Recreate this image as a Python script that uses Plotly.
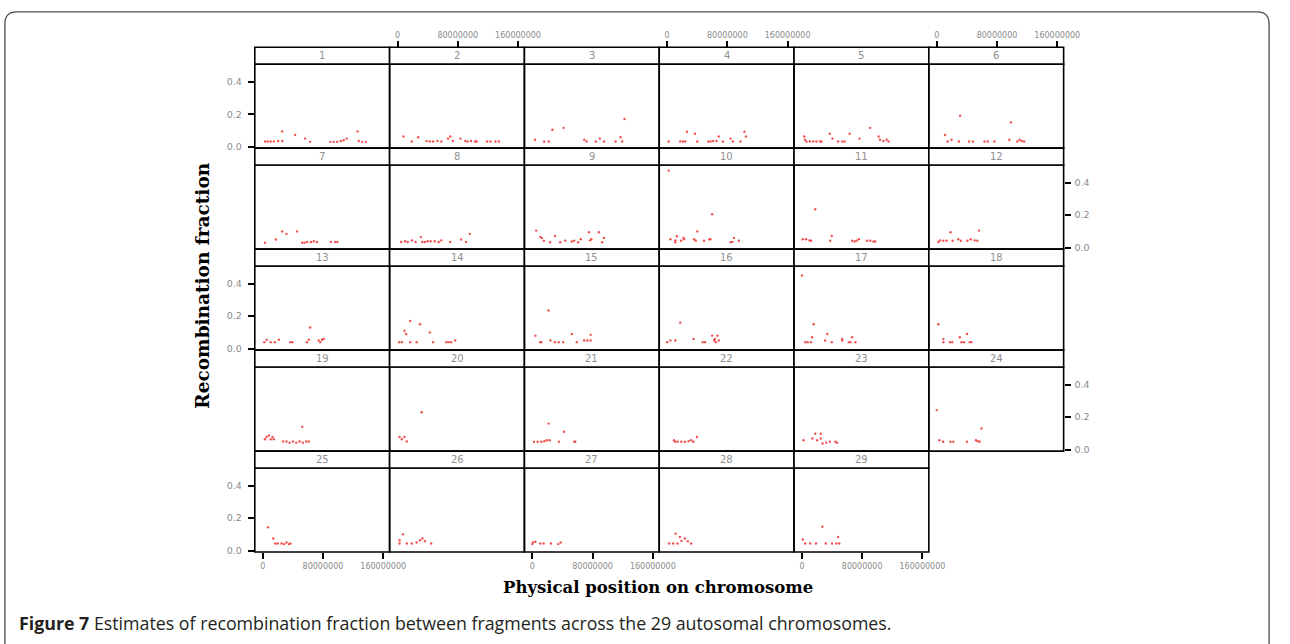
import plotly.graph_objects as go

# ---------------- data (positions in Mb, recombination fraction) ----------------
chr1_x = [3, 6.6, 10.5, 14.8, 20.5, 25.8, 26, 43, 56.4, 63, 90, 94.4, 98.8, 103.6, 107.5, 111.5, 126, 127.6, 132, 137]
chr1_y = [.032, .032, .032, .032, .035, .094, .035, .072, .05, .03, .03, .03, .03, .035, .04, .05, .094, .035, .03, .03]
chr2_x = [7.9, 18.9, 27.5, 38.5, 42.9, 47.2, 53, 58.2, 67, 70, 73.4, 83.5, 90, 93, 97.5, 103, 105, 119, 123.5, 130, 134.6]
chr2_y = [.063, .032, .058, .035, .032, .032, .035, .032, .05, .063, .035, .05, .035, .032, .035, .032, .032, .032, .032, .032, .032]
chr3_x = [3.5, 15.7, 21.8, 26.6, 41.5, 69, 72, 84.3, 89.6, 95.3, 110.6, 117, 119.3, 122.4]
chr3_y = [.043, .032, .032, .104, .116, .043, .032, .032, .05, .032, .032, .058, .032, .17]
chr4_x = [2.1, 17.4, 21, 24, 26.2, 37, 40, 54.6, 57.6, 61, 65.5, 68.5, 74, 84.2, 87.3, 97.4, 102.6, 104.8]
chr4_y = [.032, .032, .032, .032, .092, .08, .032, .032, .032, .035, .035, .063, .032, .05, .032, .032, .092, .063]
chr5_x = [3, 4, 6, 10.5, 15, 19.3, 24, 26, 37, 40.5, 48, 53.7, 56.7, 63.3, 76.4, 90.5, 101.8, 103.6, 108, 112.4, 115]
chr5_y = [.063, .043, .032, .032, .032, .032, .032, .032, .08, .05, .032, .032, .032, .08, .05, .116, .063, .043, .035, .043, .032]
chr6_x = [11, 14.4, 19.7, 29.4, 31, 42.9, 48, 63.4, 67.8, 76.6, 96.3, 98.4, 107, 110, 112.8, 116]
chr6_y = [.072, .032, .043, .032, .19, .032, .032, .032, .032, .032, .043, .149, .032, .043, .035, .032]
chr7_x = [3, 17.4, 25.8, 31.5, 45.5, 52.5, 55.5, 59, 64, 67.8, 72, 90.5, 96, 99]
chr7_y = [.03, .05, .1, .085, .1, .03, .03, .035, .035, .04, .035, .035, .035, .035]
chr8_x = [4.8, 10, 13.6, 19, 24, 31, 33, 36.3, 40, 44, 49.4, 54.7, 58, 70, 84.5, 91, 96]
chr8_y = [.035, .04, .035, .045, .035, .065, .035, .035, .04, .04, .04, .035, .045, .035, .05, .035, .085]
chr9_x = [5.2, 10.5, 12.7, 15.3, 23.6, 30, 37, 43.8, 52.4, 55.5, 60.8, 64.3, 75.3, 76.6, 78.3, 88.4, 92.7, 95]
chr9_y = [.105, .065, .06, .043, .033, .072, .033, .043, .038, .043, .033, .052, .095, .045, .052, .095, .033, .06]
chr10_x = [2.1, 4.3, 10.9, 11, 13, 18.4, 21.8, 22.5, 35.8, 38, 40, 49, 56, 57.5, 59.8, 84.3, 86.5, 88.7, 95.2]
chr10_y = [.474, .052, .033, .045, .07, .043, .06, .052, .052, .043, .1, .043, .052, .052, .206, .033, .036, .06, .043]
chr11_x = [1, 5.5, 10, 12, 17.7, 37.4, 39.6, 66.6, 69.8, 72.4, 75.5, 86.4, 90.8, 95, 97.4]
chr11_y = [.052, .052, .045, .043, .236, .043, .072, .043, .038, .043, .052, .043, .043, .038, .038]
chr12_x = [2.2, 4.4, 8.8, 13, 18.4, 21, 28.5, 32, 40.7, 45, 50.3, 53.8, 56]
chr12_y = [.035, .045, .043, .043, .095, .043, .052, .043, .043, .052, .045, .043, .105]
chr13_x = [2.2, 5.2, 10.5, 16, 21.4, 36.7, 39.3, 58.6, 61.2, 63, 74.3, 76.5, 78.7, 81]
chr13_y = [.04, .055, .04, .04, .055, .04, .04, .04, .055, .13, .05, .04, .055, .06]
chr14_x = [2.2, 5.7, 9.2, 11.4, 16.7, 16.7, 25.4, 29.8, 42.9, 47.2, 64.8, 67.8, 71.3, 76.6]
chr14_y = [.04, .04, .11, .09, .17, .04, .04, .15, .1, .04, .04, .04, .04, .05]
chr15_x = [4, 10.5, 12, 21.5, 24, 30, 35, 41, 52.5, 59, 68.7, 73, 77.4, 77.4]
chr15_y = [.08, .04, .04, .235, .05, .04, .04, .04, .09, .04, .05, .05, .05, .085]
chr16_x = [0, 4.3, 10.9, 17.4, 35, 47.2, 50.3, 59.8, 62.4, 64.7, 63.5, 66.9, 68.6]
chr16_y = [.04, .05, .05, .16, .06, .04, .04, .08, .05, .04, .06, .08, .05]
chr17_x = [0, 4.6, 7.6, 12, 13.4, 15.5, 30.8, 33.8, 39.6, 53.5, 53.5, 62.3, 64.5, 66.6, 71]
chr17_y = [.45, .04, .04, .04, .07, .15, .05, .09, .04, .05, .06, .04, .04, .07, .04]
chr18_x = [2.2, 8.8, 8.8, 17.5, 20.6, 30.6, 32.8, 36, 40.3, 43.8, 46]
chr18_y = [.15, .06, .04, .04, .04, .07, .04, .04, .09, .04, .04]
chr19_x = [3, 5.2, 8.3, 10.5, 13, 14.8, 27, 31.5, 35.8, 40.2, 44.6, 49, 52.5, 53.3, 57.7, 61.2]
chr19_y = [.064, .078, .087, .064, .078, .064, .05, .05, .043, .05, .043, .05, .14, .043, .05, .05]
chr20_x = [2.7, 5.7, 9.2, 12.3, 32]
chr20_y = [.078, .064, .078, .05, .23]
chr21_x = [2.2, 7, 12, 16, 19.3, 21.6, 23, 35.2, 42, 55.6, 57]
chr21_y = [.048, .048, .048, .052, .058, .16, .058, .048, .11, .048, .048]
chr22_x = [9.1, 10.5, 13.9, 18.8, 23.6, 28.4, 31.9, 34.8, 39.6]
chr22_y = [.058, .048, .048, .048, .048, .052, .058, .048, .078]
chr23_x = [2.1, 13.8, 17.7, 20.1, 25, 25, 27.4, 32.3, 37.1, 44.4, 46.8]
chr23_y = [.058, .068, .098, .058, .098, .068, .038, .043, .048, .048, .043]
chr24_x = [0, 3.5, 8.4, 18.1, 22, 40, 52.1, 54.5, 56.9, 59.4]
chr24_y = [.243, .058, .048, .048, .048, .048, .058, .052, .048, .13]
chr25_x = [7, 14, 16.7, 20, 25, 28.3, 31.5, 34.8, 36.7]
chr25_y = [.143, .074, .044, .044, .044, .04, .05, .04, .044]
chr26_x = [2.7, 2.7, 7.2, 12.3, 18.8, 25.3, 29.8, 33, 36.3, 44.7]
chr26_y = [.044, .064, .1, .044, .044, .05, .064, .074, .058, .044]
chr27_x = [0, 0.8, 4, 10.5, 15, 24.7, 34.4, 37.6]
chr27_y = [.04, .05, .054, .044, .044, .044, .04, .05]
chr28_x = [2.8, 8, 11.2, 13.8, 17, 19, 23.5, 27.4, 31.9]
chr28_y = [.044, .044, .104, .044, .084, .06, .074, .058, .044]
chr29_x = [1.2, 4.4, 10.9, 18.7, 27.1, 31.6, 40, 45.8, 49.6, 48]
chr29_y = [.068, .044, .044, .044, .147, .044, .044, .044, .044, .084]

chromosomes = [str(i) for i in range(1, 30)]
x_tick_vals = [0, 80, 160]
x_tick_text = ["0", "80000000", "160000000"]
y_tick_vals = [0.0, 0.2, 0.4]
y_tick_text = ["0.0", "0.2", "0.4"]

series_x = [chr1_x, chr2_x, chr3_x, chr4_x, chr5_x, chr6_x, chr7_x, chr8_x, chr9_x, chr10_x,
            chr11_x, chr12_x, chr13_x, chr14_x, chr15_x, chr16_x, chr17_x, chr18_x, chr19_x, chr20_x,
            chr21_x, chr22_x, chr23_x, chr24_x, chr25_x, chr26_x, chr27_x, chr28_x, chr29_x]
series_y = [chr1_y, chr2_y, chr3_y, chr4_y, chr5_y, chr6_y, chr7_y, chr8_y, chr9_y, chr10_y,
            chr11_y, chr12_y, chr13_y, chr14_y, chr15_y, chr16_y, chr17_y, chr18_y, chr19_y, chr20_y,
            chr21_y, chr22_y, chr23_y, chr24_y, chr25_y, chr26_y, chr27_y, chr28_y, chr29_y]

# ---------------- layout geometry (page pixels, 1290 x 644) ----------------
W, H = 1290, 644
GRID_LEFT = 258.0
COL_W = 136.5
TOP = 47.5
ROW_PITCH = 101.6
STRIP_H = 17.0
X_RANGE = [-10.5, 168.5]
Y_RANGE = [-0.009, 0.508]
NCOL = 6
LINE_W = 1.6
TICK_FONT = dict(family="DejaVu Sans", size=8, color="#8a8a8a")
YTICK_FONT = dict(family="DejaVu Sans", size=9.5, color="#8a8a8a")
POINT_COLOR = "#f05252"


def fx(px):
    return px / W


def fy(py):
    return 1 - py / H


fig = go.Figure()
layout = dict(
    width=W, height=H, autosize=False, margin=dict(l=0, r=0, t=0, b=0, pad=0),
    paper_bgcolor="white", plot_bgcolor="white", showlegend=False,
)
shapes = []
annotations = []

n = len(chromosomes)
nrow = (n + NCOL - 1) // NCOL
for i in range(n):
    r, c = divmod(i, NCOL)
    k = i + 1
    x0 = GRID_LEFT + COL_W * c
    x1 = x0 + COL_W
    st = TOP + ROW_PITCH * r
    sb = st + STRIP_H
    pb = st + ROW_PITCH
    xa = "x" if k == 1 else f"x{k}"
    ya = "y" if k == 1 else f"y{k}"
    xkey = "xaxis" if k == 1 else f"xaxis{k}"
    ykey = "yaxis" if k == 1 else f"yaxis{k}"

    fig.add_trace(go.Scatter(
        x=series_x[i], y=series_y[i], mode="markers", xaxis=xa, yaxis=ya,
        marker=dict(size=2.4, color=POINT_COLOR, line=dict(width=0)),
        hoverinfo="skip",
    ))

    top_axis = (r == 0 and c % 2 == 1)
    bottom_axis = (r == nrow - 1 and c % 2 == 0)
    left_axis = (c == 0 and r % 2 == 0)
    right_axis = (c == NCOL - 1 and r % 2 == 1)

    xax = dict(
        domain=[fx(x0), fx(x1)], anchor=ya, range=X_RANGE,
        showgrid=False, zeroline=False, showline=False,
        tickvals=x_tick_vals, ticktext=x_tick_text, tickfont=TICK_FONT,
    )
    if top_axis:
        xax.update(anchor="free", position=fy(st), side="top", ticks="outside", ticklen=6,
                   tickwidth=LINE_W, tickcolor="black", showticklabels=True)
    elif bottom_axis:
        xax.update(side="bottom", ticks="outside", ticklen=6,
                   tickwidth=LINE_W, tickcolor="black", showticklabels=True)
    else:
        xax.update(ticks="", showticklabels=False)
    yax = dict(
        domain=[fy(pb), fy(sb)], anchor=xa, range=Y_RANGE,
        showgrid=False, zeroline=False, showline=False,
        tickvals=y_tick_vals, ticktext=y_tick_text, tickfont=YTICK_FONT,
    )
    if left_axis or right_axis:
        yax.update(side="left" if left_axis else "right", ticks="outside", ticklen=6,
                   tickwidth=LINE_W, tickcolor="black", showticklabels=True,
                   ticklabelstandoff=4 if left_axis else 2)
    else:
        yax.update(ticks="", showticklabels=False)
    layout[xkey] = xax
    layout[ykey] = yax

    # panel border
    shapes.append(dict(type="rect", xref="paper", yref="paper",
                       x0=fx(x0), x1=fx(x1), y0=fy(pb), y1=fy(sb),
                       line=dict(color="black", width=LINE_W), layer="above"))
    # strip
    shapes.append(dict(type="rect", xref="paper", yref="paper",
                       x0=fx(x0), x1=fx(x1), y0=fy(sb), y1=fy(st),
                       line=dict(color="black", width=LINE_W), fillcolor="white", layer="above"))
    annotations.append(dict(xref="paper", yref="paper", x=fx((x0 + x1) / 2), y=fy((st + sb) / 2),
                            text=chromosomes[i], showarrow=False, xanchor="center", yanchor="middle",
                            font=dict(family="DejaVu Sans", size=10, color="#909090")))

# axis titles
annotations.append(dict(xref="paper", yref="paper", x=fx(205), y=fy(287), text="Recombination fraction",
                        textangle=-90, showarrow=False, xanchor="center", yanchor="middle",
                        font=dict(family="DejaVu Serif", size=18.5, color="black", weight="bold")))
annotations.append(dict(xref="paper", yref="paper", x=fx(666), y=fy(591), text="Physical position on chromosome",
                        showarrow=False, xanchor="center", yanchor="middle",
                        font=dict(family="DejaVu Serif", size=16.5, color="black", weight="bold")))
# caption
annotations.append(dict(xref="paper", yref="paper", x=fx(17), y=fy(627),
                        text="<b>Figure 7</b> Estimates of recombination fraction between fragments across the 29 autosomal chromosomes.",
                        showarrow=False, xanchor="left", yanchor="middle",
                        font=dict(family="Open Sans", size=17.8, color="#231f20")))

# outer rounded frame
R = 12
L, T, RR, B = 5, 12, 1285, 660
path = (f"M {fx(L)},{fy(B)} L {fx(L)},{fy(T + R)} Q {fx(L)},{fy(T)} {fx(L + R)},{fy(T)} "
        f"L {fx(RR - R)},{fy(T)} Q {fx(RR)},{fy(T)} {fx(RR)},{fy(T + R)} L {fx(RR)},{fy(B)}")
shapes.append(dict(type="path", xref="paper", yref="paper", path=path,
                   line=dict(color="#4d4d4d", width=1.3)))

layout["shapes"] = shapes
layout["annotations"] = annotations
fig.update_layout(**layout)

fig.write_html("out.html", config={"displayModeBar": False, "responsive": False},
               post_script="document.body.style.margin='0px';document.body.style.overflow='hidden';")
